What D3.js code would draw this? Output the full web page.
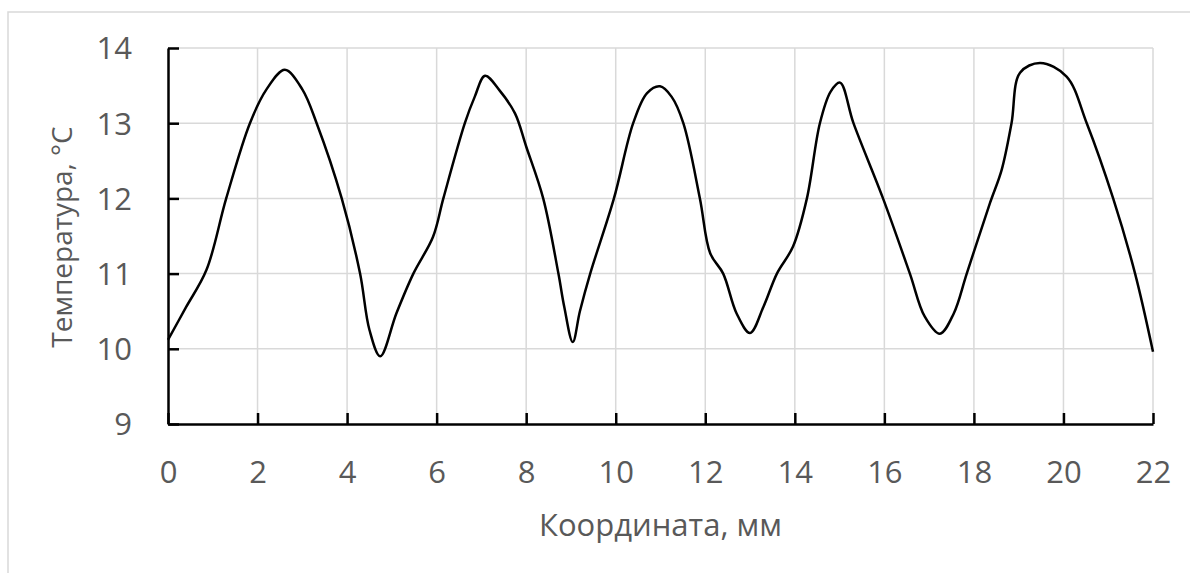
<!DOCTYPE html>
<html><head><meta charset="utf-8">
<script src="https://cdn.jsdelivr.net/npm/d3@7"></script>
<style>body{margin:0;background:#fff}svg{display:block}</style>
</head><body><svg id="c" width="1190" height="573"></svg>
<script>
const coordMm = [0,0.4,0.86,1.3,1.83,2.2,2.61,3.0,3.32,3.88,4.29,4.5,4.74,5.1,5.48,5.92,6.15,6.63,6.85,7.08,7.4,7.75,8.0,8.38,8.72,8.85,9.04,9.2,9.43,9.96,10.39,10.7,10.99,11.25,11.51,11.88,12.11,12.4,12.7,13.0,13.3,13.6,13.96,14.27,14.56,14.8,15.01,15.31,15.97,16.57,16.9,17.24,17.55,17.84,18.36,18.62,18.84,19.03,19.48,20.07,20.52,21.11,21.6,22];
const tempC = [10.12,10.55,11.05,12.0,13.0,13.45,13.71,13.45,13.0,12.0,11.0,10.25,9.90,10.47,11.0,11.49,12.0,13.0,13.35,13.63,13.44,13.13,12.69,12.0,11.0,10.56,10.09,10.5,11.0,12.0,13.0,13.4,13.49,13.35,13.0,12.0,11.27,11.0,10.47,10.21,10.56,11.0,11.36,12.0,13.0,13.42,13.54,13.0,12.0,11.0,10.43,10.2,10.47,11.0,11.94,12.38,13.0,13.67,13.80,13.62,13.0,12.0,11.0,9.96];
const xTicks = [0,2,4,6,8,10,12,14,16,18,20,22];
const yTicks = [9,10,11,12,13,14];
const xTitle = "Координата, мм";
const yTitle = "Температура, °C";

const svg = d3.select("#c");
const L=168, R=1153, T=48, B=424;
const x = d3.scaleLinear().domain([0,22]).range([L,R]);
const y = d3.scaleLinear().domain([9,14]).range([B,T]);
const font = "'Open Sans', sans-serif";
const txt = "#595959";
const fs = 31;

svg.append("rect").attr("x",8).attr("y",12).attr("width",1200).attr("height",600)
  .attr("fill","none").attr("stroke","#d9d9d9").attr("stroke-width",1.5);

// grid
svg.append("g").selectAll("line").data(xTicks.slice(1)).join("line")
  .attr("x1",d=>x(d)).attr("x2",d=>x(d)).attr("y1",T).attr("y2",B)
  .attr("stroke","#d9d9d9").attr("stroke-width",1.5);
svg.append("g").selectAll("line").data(yTicks.slice(1)).join("line")
  .attr("x1",L).attr("x2",R).attr("y1",d=>y(d)).attr("y2",d=>y(d))
  .attr("stroke","#d9d9d9").attr("stroke-width",1.5);

// axes
const xAxis = svg.append("g").attr("transform",`translate(0,${B})`)
  .call(d3.axisBottom(x).tickValues(xTicks).tickFormat(d3.format("d")).tickSizeInner(-11).tickSizeOuter(0).tickPadding(37));
const yAxis = svg.append("g").attr("transform",`translate(${L},0)`)
  .call(d3.axisLeft(y).tickValues(yTicks).tickFormat(d3.format("d")).tickSizeInner(-11).tickSizeOuter(0).tickPadding(36));
[xAxis,yAxis].forEach(a=>{
  a.select(".domain").attr("stroke","#000").attr("stroke-width",2.5);
  a.selectAll(".tick line").attr("stroke","#000").attr("stroke-width",2.5);
  a.selectAll(".tick text").attr("fill",txt).attr("font-family",font).attr("font-size",fs);
});
yAxis.selectAll(".tick text").attr("dy","0.35em");

// line
const line = d3.line().x((d,i)=>x(coordMm[i])).y(d=>y(d)).curve(d3.curveCatmullRom.alpha(0.5));
svg.append("path").datum(tempC).attr("d",line).attr("fill","none")
  .attr("stroke","#000").attr("stroke-width",2.5).attr("stroke-linejoin","round");

// titles
svg.append("text").attr("x",(L+R)/2).attr("y",536).attr("text-anchor","middle")
  .attr("fill",txt).attr("font-family",font).attr("font-size",fs).text(xTitle);
svg.append("text").attr("transform",`translate(72,237) rotate(-90)`).attr("text-anchor","middle")
  .attr("fill",txt).attr("font-family",font).attr("font-size",28).text(yTitle);
</script></body></html>
